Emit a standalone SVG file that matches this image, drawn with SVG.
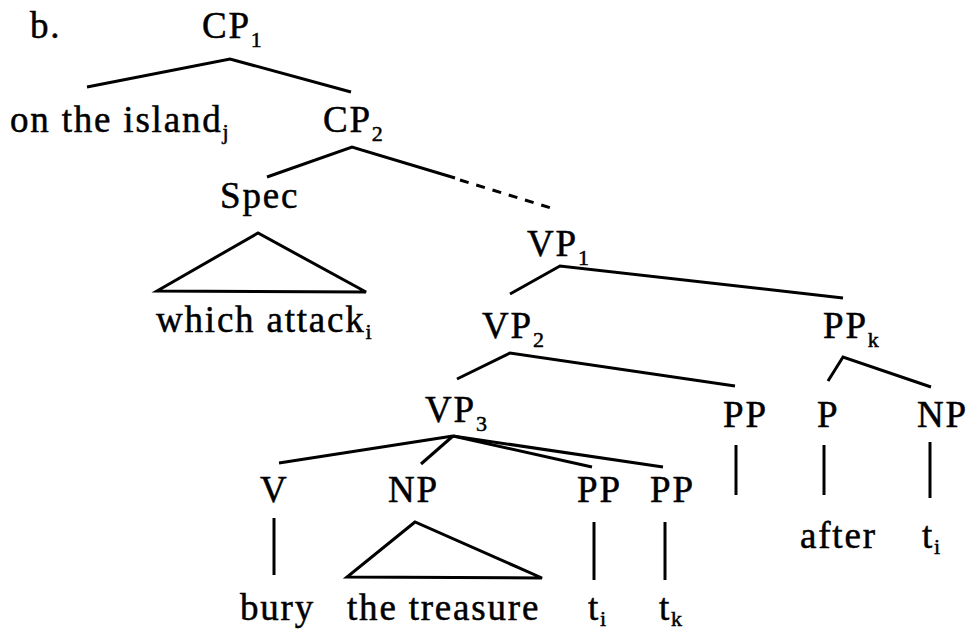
<svg xmlns="http://www.w3.org/2000/svg" width="970" height="633" viewBox="0 0 970 633">
<style>
  .t { font-family: "Liberation Serif", "Times New Roman", serif; font-size: 37px; letter-spacing: 1.8px; fill: #000; stroke: #000; stroke-width: 0.5px; }
  .s { font-size: 22px; letter-spacing: 0px; }
  .e { stroke: #000; stroke-width: 3; fill: none; stroke-linecap: butt; stroke-linejoin: miter; }
  .d { stroke-dasharray: 9 8; }
</style>
<rect width="970" height="633" fill="#fff"/>
<g id="connectors">
  <polyline class="e" points="87,87 230,59 351,92"/>
  <polyline class="e" points="267,177 352,147 455,178"/>
  <line class="e d" x1="460" y1="180" x2="551" y2="208"/>
  <polygon class="e" points="258,233 157,291 366,292"/>
  <polyline class="e" points="510,294 560,266 843,298"/>
  <polyline class="e" points="457,379 510,353 735,386"/>
  <polyline class="e" points="828,381 843,357 931,387"/>
  <line class="e" x1="453" y1="436" x2="279" y2="463"/>
  <line class="e" x1="453" y1="436" x2="421" y2="464"/>
  <line class="e" x1="453" y1="436" x2="592" y2="467"/>
  <line class="e" x1="453" y1="436" x2="663" y2="467"/>
  <line class="e" x1="274" y1="518" x2="274" y2="575"/>
  <polygon class="e" points="415,522 347,577 542,578"/>
  <line class="e" x1="594" y1="522" x2="594" y2="580"/>
  <line class="e" x1="665" y1="522" x2="665" y2="580"/>
  <line class="e" x1="736" y1="445" x2="736" y2="495"/>
  <line class="e" x1="824" y1="445" x2="824" y2="495"/>
  <line class="e" x1="930" y1="442" x2="930" y2="498"/>
</g>
<g id="label-b"><text class="t" x="30" y="38">b.</text></g>
<g id="cp1"><text class="t" x="202" y="38">CP<tspan class="s" dy="9">1</tspan></text></g>
<g id="on-the-island"><text class="t" x="10" y="132">on the island<tspan class="s" dy="7">j</tspan></text></g>
<g id="cp2"><text class="t" x="323" y="132">CP<tspan class="s" dy="9">2</tspan></text></g>
<g id="spec"><text class="t" x="220" y="208">Spec</text></g>
<g id="which-attack"><text class="t" x="156" y="332">which attack<tspan class="s" dy="7">i</tspan></text></g>
<g id="vp1"><text class="t" x="527" y="256">VP<tspan class="s" dy="9">1</tspan></text></g>
<g id="vp2"><text class="t" x="482" y="338">VP<tspan class="s" dy="9">2</tspan></text></g>
<g id="ppk"><text class="t" x="823" y="338">PP<tspan class="s" dy="9">k</tspan></text></g>
<g id="vp3"><text class="t" x="425" y="422">VP<tspan class="s" dy="9">3</tspan></text></g>
<g id="pp-vp2"><text class="t" x="723" y="427">PP</text></g>
<g id="p"><text class="t" x="817" y="427">P</text></g>
<g id="np-ppk"><text class="t" x="917" y="427">NP</text></g>
<g id="v"><text class="t" x="260" y="502">V</text></g>
<g id="np-vp3"><text class="t" x="388" y="502">NP</text></g>
<g id="pp-i"><text class="t" x="577" y="502">PP</text></g>
<g id="pp-k"><text class="t" x="650" y="502">PP</text></g>
<g id="bury"><text class="t" x="240" y="620">bury</text></g>
<g id="the-treasure"><text class="t" x="347" y="620">the treasure</text></g>
<g id="t-i"><text class="t" x="588" y="620">t<tspan class="s" dy="6">i</tspan></text></g>
<g id="t-k"><text class="t" x="659" y="620">t<tspan class="s" dy="6">k</tspan></text></g>
<g id="after"><text class="t" x="800" y="548">after</text></g>
<g id="t-i-np"><text class="t" x="922" y="548">t<tspan class="s" dy="6">i</tspan></text></g>
</svg>
